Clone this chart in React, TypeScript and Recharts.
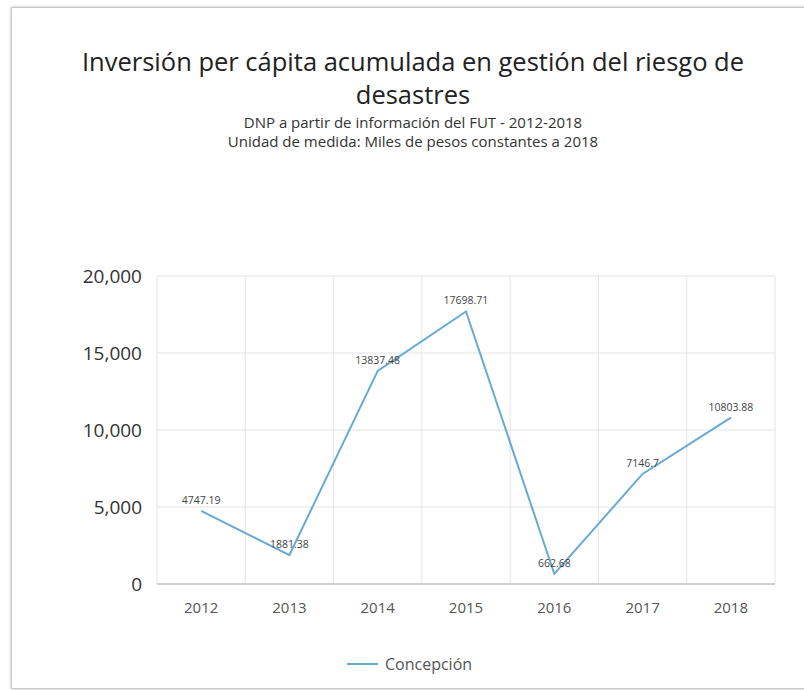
import React from 'react';
import { LineChart, Line, XAxis, YAxis, CartesianGrid, LabelList } from 'recharts';

const years = ['2012', '2013', '2014', '2015', '2016', '2017', '2018'];
const concepcion = [4747.19, 1881.38, 13837.48, 17698.71, 662.68, 7146.7, 10803.88];
const yTicks = [0, 5000, 10000, 15000, 20000];

const title1 = 'Inversión per cápita acumulada en gestión del riesgo de';
const title2 = 'desastres';
const subtitle1 = 'DNP a partir de información del FUT - 2012-2018';
const subtitle2 = 'Unidad de medida: Miles de pesos constantes a 2018';
const seriesName = 'Concepción';

const data = years.map((y, i) => ({ year: y, value: concepcion[i] }));

const FONT = '"Open Sans", "Noto Sans", sans-serif';
const LINE_COLOR = '#67aad3';

export default function App() {
  const n = years.length;
  return (
    <div style={{ position: 'absolute', left: 0, top: 0, width: 804, height: 690, background: '#fff', fontFamily: FONT, overflow: 'hidden' }}>
      <div style={{ position: 'absolute', left: 11, top: 7, width: 800, height: 680, border: '1px solid #c8c8c8', boxShadow: '0 0 3px rgba(0,0,0,0.25)' }} />
      <div style={{ position: 'absolute', left: 0, top: 45, width: 826, textAlign: 'center', fontSize: 25.5, lineHeight: '33px', color: '#222' }}>
        <div>{title1}</div>
        <div>{title2}</div>
      </div>
      <div style={{ position: 'absolute', left: 0, top: 113, width: 826, textAlign: 'center', fontSize: 15, lineHeight: '19px', color: '#333' }}>
        <div>{subtitle1}</div>
        <div>{subtitle2}</div>
      </div>
      <div style={{ position: 'absolute', left: 0, top: 0 }}>
        <LineChart
          width={804}
          height={690}
          data={data}
          margin={{ top: 276, right: 29, bottom: 66, left: 0 }}
        >
          <CartesianGrid
            stroke="#e4e4e4"
            verticalCoordinatesGenerator={({ offset }: any) =>
              Array.from({ length: n + 1 }, (_, i) => offset.left + (i * offset.width) / n)
            }
          />
          <XAxis
            dataKey="year"
            scale="band"
            tickLine={false}
            axisLine={{ stroke: '#cfcfcf', strokeWidth: 2 }}
            tick={{ fontSize: 15, fill: '#555', fontFamily: FONT }}
            tickMargin={12}
            height={40}
          />
          <YAxis
            domain={[0, 20000]}
            ticks={yTicks}
            width={157}
            axisLine={false}
            tickLine={false}
            tickSize={0}
            tickMargin={15}
            tick={{ fontSize: 19, fill: '#333', fontFamily: FONT }}
            tickFormatter={(v: number) => v.toLocaleString('en-US')}
          />
          <Line
            type="linear"
            dataKey="value"
            name={seriesName}
            stroke={LINE_COLOR}
            strokeWidth={2}
            dot={false}
            isAnimationActive={false}
          >
            <LabelList dataKey="value" position="top" offset={7} style={{ fontSize: 10.5, fill: '#444', fontFamily: FONT }} />
          </Line>
        </LineChart>
      </div>
      <div style={{ position: 'absolute', left: 347, top: 653, display: 'flex', alignItems: 'center', height: 22 }}>
        <div style={{ width: 31, height: 2, background: LINE_COLOR, marginRight: 7 }} />
        <span style={{ fontSize: 16, color: '#555' }}>{seriesName}</span>
      </div>
    </div>
  );
}
